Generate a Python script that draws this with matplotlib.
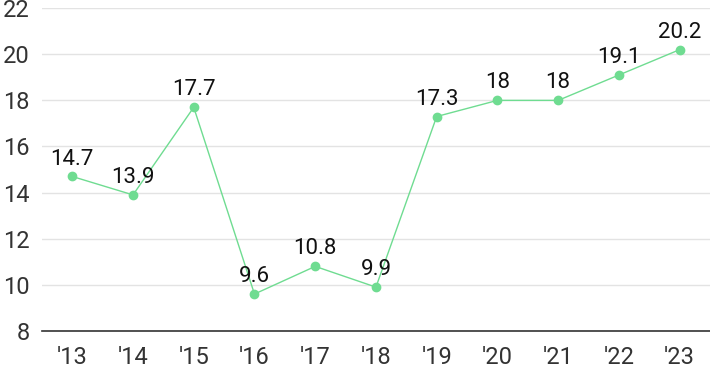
import matplotlib
matplotlib.use("Agg")
from matplotlib import pyplot as plt

years = ["'13", "'14", "'15", "'16", "'17", "'18", "'19", "'20", "'21", "'22", "'23"]
values = [14.7, 13.9, 17.7, 9.6, 10.8, 9.9, 17.3, 18, 18, 19.1, 20.2]
labels = ["14.7", "13.9", "17.7", "9.6", "10.8", "9.9", "17.3", "18", "18", "19.1", "20.2"]

plt.rcParams['font.family'] = ['Roboto', 'DejaVu Sans']

fig = plt.figure(figsize=(7.10, 3.71), dpi=100)
ax = fig.add_axes([0.059, 0.108, 0.941, 0.870])

x = list(range(len(years)))
ax.plot(x, values, color="#6fdc91", linewidth=1, marker="o", markersize=6, zorder=3)

for xi, v, lab in zip(x, values, labels):
    ax.annotate(lab, (xi, v), xytext=(0, 5), textcoords="offset points",
                ha="center", va="bottom", fontsize=16, color="#111111")

ax.set_xlim(-0.5, len(years) - 0.5)
ax.set_ylim(8, 22)
ax.set_yticks(range(8, 23, 2))
ax.set_xticks(x)
ax.set_xticklabels(years)

ax.grid(axis="y", color="#e3e3e3", linewidth=1)
ax.set_axisbelow(True)
for s in ["top", "right", "left"]:
    ax.spines[s].set_visible(False)
ax.spines["bottom"].set_color("#333333")
ax.spines["bottom"].set_linewidth(1.2)

ax.tick_params(axis="both", length=0, labelsize=17, colors="#333333")
ax.tick_params(axis="y", pad=9)
ax.tick_params(axis="x", pad=11)
for t in ax.get_yticklabels():
    t.set_horizontalalignment("right")

fig.savefig("out.png", dpi=100)
